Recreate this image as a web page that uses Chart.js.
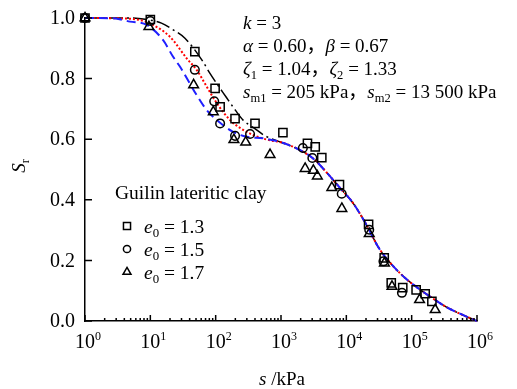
<!DOCTYPE html>
<html>
<head>
<meta charset="utf-8">
<script src="https://cdn.jsdelivr.net/npm/chart.js@4.4.0/dist/chart.umd.min.js"></script>
<style>
  body { margin: 0; background: #fff; }
  #wrap { width: 517px; height: 389px; }
</style>
</head>
<body>
<div id="wrap"><canvas id="srChart" width="517" height="389"></canvas></div>
<script>
// Measured points: suction s (kPa) and degree of saturation Sr
const sE13 = [1, 10, 48, 98, 117, 198, 400, 1070, 2540, 3340, 4210, 7850, 21900, 38000, 48700, 73000, 117000, 161000, 204000];
const srE13 = [1.0, 0.995, 0.889, 0.768, 0.707, 0.668, 0.652, 0.622, 0.586, 0.575, 0.539, 0.45, 0.319, 0.208, 0.126, 0.11, 0.103, 0.09, 0.065];

const sE15 = [1, 10, 48, 95, 117, 198, 336, 2160, 3020, 8500, 22400, 37000, 71000];
const srE15 = [1.0, 0.99, 0.829, 0.725, 0.652, 0.611, 0.617, 0.571, 0.538, 0.42, 0.301, 0.197, 0.093];

const sE17 = [1, 9.5, 46, 92, 190, 288, 680, 2340, 3130, 3600, 6000, 8540, 22400, 38300, 50000, 132000, 229000];
const srE17 = [1.0, 0.971, 0.779, 0.69, 0.598, 0.59, 0.549, 0.503, 0.497, 0.478, 0.44, 0.371, 0.288, 0.191, 0.114, 0.07, 0.037];

// Fitted curves: separate low-suction branches, shared high-suction tail
const sFit13 = [1, 5, 8.3, 14.8, 22.4, 33.9, 61.7, 81.3, 148, 200, 263, 398, 562];
const srFit13 = [1.0, 1.0, 0.996, 0.983, 0.961, 0.933, 0.861, 0.818, 0.736, 0.696, 0.663, 0.635, 0.612];

const sFit15 = [1, 3, 6.95, 11, 20, 36, 51.4, 73.1, 104, 166, 237, 374, 681];
const srFit15 = [1.0, 0.999, 0.993, 0.977, 0.938, 0.867, 0.828, 0.773, 0.719, 0.663, 0.637, 0.614, 0.596];

const sFit17 = [1, 2.7, 4.9, 8.8, 15.7, 22.3, 28.5, 51.4, 73.1, 117, 185, 299, 532];
const srFit17 = [1.0, 0.999, 0.988, 0.977, 0.927, 0.872, 0.839, 0.745, 0.696, 0.654, 0.624, 0.608, 0.603];

const sTail = [1000, 2000, 3160, 5000, 7940, 12590, 20000, 31620, 50100, 79430, 125900, 199500, 316200, 501200, 794300, 1000000];
const srTail = [0.59, 0.563, 0.535, 0.49, 0.44, 0.39, 0.32, 0.24, 0.185, 0.142, 0.108, 0.078, 0.05, 0.028, 0.009, 0.0];

const xTickPowers = [0, 1, 2, 3, 4, 5, 6];
const yTicks = [0, 0.2, 0.4, 0.6, 0.8, 1.0];

const SERIF = '"Liberation Serif", "Times New Roman", "Noto Sans CJK SC", serif';

function toPoints(xs, ys) {
    return xs.map((x, i) => ({ x: x, y: ys[i] }));
}

function fontOf(size, italic) {
    return (italic ? 'italic ' : '') + size + 'px ' + SERIF;
}

// Draw text made of pieces: [text, kind] where kind is '', 'i', 'sub' or 'sup'
function richText(ctx, x, y, parts, size, measureOnly) {
    let cx = x;
    parts.forEach(([text, kind]) => {
        let fs = size, dy = 0;
        if (kind === 'sub') { fs = size * 0.66; dy = size * 0.22; }
        if (kind === 'sup') { fs = size * 0.6; dy = -size * 0.42; }
        ctx.font = fontOf(fs, kind === 'i');
        if (!measureOnly) ctx.fillText(text, cx, y + dy);
        cx += ctx.measureText(text).width;
    });
    return cx - x;
}

function marker(ctx, style, radius, x, y) {
    ctx.save();
    ctx.strokeStyle = '#000';
    ctx.fillStyle = 'rgba(0,0,0,0)';
    ctx.lineWidth = 1.5;
    Chart.helpers.drawPoint(ctx, { pointStyle: style, radius: radius, borderWidth: 1.5, rotation: 0 }, x, y);
    ctx.restore();
}

const axisDecor = {
    id: 'axisDecor',
    afterDraw(chart) {
        const ctx = chart.ctx;
        const xs = chart.scales.x, ys = chart.scales.y;
        const area = chart.chartArea;
        ctx.save();
        ctx.strokeStyle = '#000';
        ctx.fillStyle = '#000';
        ctx.lineWidth = 1.5;

        // inward ticks on y
        ctx.beginPath();
        yTicks.forEach(v => {
            const py = ys.getPixelForValue(v);
            ctx.moveTo(area.left, py);
            ctx.lineTo(area.left + 7, py);
        });
        ctx.stroke();

        // inward major and minor ticks on x
        ctx.beginPath();
        xTickPowers.forEach(p => {
            const base = Math.pow(10, p);
            const px = xs.getPixelForValue(base);
            ctx.moveTo(px, area.bottom);
            ctx.lineTo(px, area.bottom - 6);
            if (p < 6) {
                for (let k = 2; k <= 9; k++) {
                    const mx = xs.getPixelForValue(k * base);
                    ctx.moveTo(mx, area.bottom);
                    ctx.lineTo(mx, area.bottom - 3);
                }
            }
        });
        ctx.stroke();

        // y tick labels
        ctx.textAlign = 'right';
        ctx.textBaseline = 'middle';
        ctx.font = fontOf(20, false);
        yTicks.forEach(v => {
            ctx.fillText(v.toFixed(1), area.left - 10, ys.getPixelForValue(v) + 1);
        });

        // x tick labels 10^n
        ctx.textAlign = 'left';
        ctx.textBaseline = 'alphabetic';
        xTickPowers.forEach(p => {
            const px = xs.getPixelForValue(Math.pow(10, p));
            ctx.font = fontOf(20, false);
            const w = ctx.measureText('10').width;
            richText(ctx, px - w / 2, area.bottom + 27, [['10', ''], [String(p), 'sup']], 20);
        });

        // axis titles
        const xtParts = [['s', 'i'], [' /kPa', '']];
        const xtw = richText(ctx, 0, 0, xtParts, 19, true);
        richText(ctx, 282 - xtw / 2, area.bottom + 64, xtParts, 19);

        ctx.save();
        ctx.translate(25, 166);
        ctx.rotate(-Math.PI / 2);
        const ytParts = [['S', 'i'], ['r', 'sub']];
        const ytw = richText(ctx, 0, 0, ytParts, 19, true);
        richText(ctx, -ytw / 2, 0, ytParts, 19);
        ctx.restore();

        // legend
        richText(ctx, 115, 199, [['Guilin lateritic clay', '']], 19.5);
        const legendRows = [
            ['rect', 5, '1.3', 226],
            ['circle', 3.6, '1.5', 249],
            ['triangle', 4.6, '1.7', 272]
        ];
        legendRows.forEach(([style, r, val, py]) => {
            marker(ctx, style, r, 127, py);
            richText(ctx, 144, py + 6.5, [['e', 'i'], ['0', 'sub'], [' = ' + val, '']], 19.5);
        });

        // model parameters
        const paramLines = [
            [[['k', 'i'], [' = 3', '']], 29],
            [[['α', 'i'], [' = 0.60，', ''], ['β', 'i'], [' = 0.67', '']], 52],
            [[['ζ', 'i'], ['1', 'sub'], [' = 1.04，', ''], ['ζ', 'i'], ['2', 'sub'], [' = 1.33', '']], 75],
            [[['s', 'i'], ['m1', 'sub'], [' = 205 kPa，', ''], ['s', 'i'], ['m2', 'sub'], [' = 13 500 kPa', '']], 98]
        ];
        paramLines.forEach(([parts, py]) => richText(ctx, 243, py, parts, 19));

        ctx.restore();
    }
};

const fitLine = (xs, ys, color, dash, width, order) => ({
    type: 'line',
    data: toPoints(xs.concat(sTail), ys.concat(srTail)),
    borderColor: color,
    borderWidth: width,
    borderDash: dash,
    pointRadius: 0,
    fill: false,
    cubicInterpolationMode: 'monotone',
    clip: false,
    order: order
});

const measured = (xs, ys, style, radius) => ({
    type: 'scatter',
    data: toPoints(xs, ys),
    pointStyle: style,
    pointRadius: radius,
    pointBorderColor: '#000',
    pointBackgroundColor: 'rgba(0,0,0,0)',
    pointBorderWidth: 1.5,
    showLine: false,
    clip: false,
    order: 0
});

const ctx = document.getElementById('srChart');
new Chart(ctx.getContext('2d'), {
    data: {
        datasets: [
            measured(sE13, srE13, 'rect', 5.8),
            measured(sE15, srE15, 'circle', 4.3),
            measured(sE17, srE17, 'triangle', 5.6),
            fitLine(sFit17, srFit17, '#1f1fff', [9, 5], 2, 1),
            fitLine(sFit15, srFit15, '#ff0000', [2, 2], 2, 2),
            fitLine(sFit13, srFit13, '#000000', [14, 4, 2, 4], 1.5, 3)
        ]
    },
    options: {
        responsive: false,
        animation: false,
        layout: { padding: { left: 85, top: 18, right: 40, bottom: 68 } },
        plugins: {
            legend: { display: false },
            tooltip: { enabled: false }
        },
        scales: {
            x: {
                type: 'logarithmic',
                min: 1,
                max: 1000000,
                grid: { display: false, drawTicks: false },
                ticks: { display: false },
                border: { display: true, color: '#000', width: 1.5 }
            },
            y: {
                type: 'linear',
                min: 0,
                max: 1,
                grid: { display: false, drawTicks: false },
                ticks: { display: false },
                border: { display: true, color: '#000', width: 1.5 }
            }
        }
    },
    plugins: [axisDecor]
});
</script>
</body>
</html>
